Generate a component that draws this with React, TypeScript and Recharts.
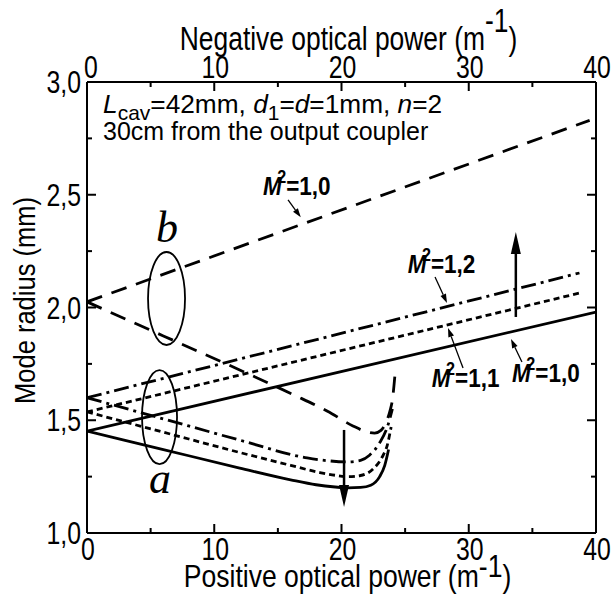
import React from 'react';
import { LineChart, Line, XAxis, YAxis, ReferenceLine, ReferenceDot } from 'recharts';

const FONT = '"Liberation Sans", Arial, Helvetica, sans-serif';
const SERIF = '"Liberation Serif", "Times New Roman", serif';
const SX = 0.8; // axis lettering in the figure is squeezed horizontally

// axis ticks
const xTicks = [0, 5, 10, 15, 20, 25, 30, 35, 40];
const xMajor = [0, 10, 20, 30, 40];
const yTicks = [1, 1.25, 1.5, 1.75, 2, 2.25, 2.5, 2.75, 3];
const yMajor = [1, 1.5, 2, 2.5, 3];

// group a: positive optical power (M2 = 1.0 / 1.1 / 1.2)
const posSolidX = [0, 6, 12, 16, 18, 19.5, 20.5, 21.5, 22.3, 23, 23.4, 23.7];
const posSolidY = [1.452, 1.37, 1.288, 1.236, 1.214, 1.204, 1.2, 1.202, 1.212, 1.25, 1.3, 1.37];
const posDottedX = [0, 6, 12, 16, 18.3, 19.5, 20.5, 21.5, 22.5, 23.2, 23.6, 23.9];
const posDottedY = [1.537, 1.447, 1.357, 1.3, 1.268, 1.256, 1.25, 1.255, 1.285, 1.337, 1.39, 1.47];
const posDashDotX = [0, 6, 12, 17.3, 19, 20.5, 21.5, 22.2, 23, 23.6, 24.0];
const posDashDotY = [1.6, 1.506, 1.412, 1.333, 1.32, 1.315, 1.322, 1.345, 1.4, 1.47, 1.55];
// group b: positive optical power, M2 = 1.0
const posDashedX = [0, 6, 12, 16.2, 18.9, 20.9, 22, 22.6, 23.1, 23.5, 23.8, 24.0, 24.2];
const posDashedY = [2.025, 1.874, 1.723, 1.614, 1.54, 1.475, 1.448, 1.443, 1.455, 1.49, 1.54, 1.59, 1.7];

// negative optical power (straight lines)
const negSolidX = [0, 40];
const negSolidY = [1.452, 1.98];
const negDottedX = [0, 38.7];
const negDottedY = [1.537, 2.064];
const negDashDotX = [0, 38.7];
const negDashDotY = [1.6, 2.153];
const negDashedX = [0, 39.5];
const negDashedY = [2.025, 2.83];

const zip = (xs: number[], ys: number[]) => xs.map((x, i) => ({ x, y: ys[i] }));

const DASHED = '16 10';
const DOTTED = '6 4';
const DASHDOT = '15 5 3 5';

const series = [
  { key: 'pos-solid', data: zip(posSolidX, posSolidY), dash: undefined },
  { key: 'pos-dotted', data: zip(posDottedX, posDottedY), dash: DOTTED },
  { key: 'pos-dashdot', data: zip(posDashDotX, posDashDotY), dash: DASHDOT },
  { key: 'pos-dashed', data: zip(posDashedX, posDashedY), dash: DASHED },
  { key: 'neg-solid', data: zip(negSolidX, negSolidY), dash: undefined },
  { key: 'neg-dotted', data: zip(negDottedX, negDottedY), dash: DOTTED },
  { key: 'neg-dashdot', data: zip(negDashDotX, negDashDotY), dash: DASHDOT },
  { key: 'neg-dashed', data: zip(negDashedX, negDashedY), dash: DASHED },
];

// annotation arrows [x1, y1, x2, y2], head at the second point
const arrows: { seg: number[]; big: boolean }[] = [
  { seg: [20.2, 1.457, 20.2, 1.115], big: true },
  { seg: [33.7, 1.958, 33.7, 2.335], big: true },
  { seg: [15.8, 2.477, 16.8, 2.4], big: false },
  { seg: [27.35, 2.135, 28.29, 2.02], big: false },
  { seg: [29.55, 1.732, 28.37, 1.909], big: false },
  { seg: [34.18, 1.758, 33.32, 1.86], big: false },
];

// M^2 labels
const m2Labels = [
  { x: 13.83, y: 2.499, value: '1,0' },
  { x: 25.2, y: 2.153, value: '1,2' },
  { x: 27.1, y: 1.647, value: '1,1' },
  { x: 33.4, y: 1.67, value: '1,0' },
];

const Txt = ({ x, y, anchor = 'start', size = 26, sx = SX, weight, family = FONT, style, children }: any) => (
  <text
    transform={`translate(${x},${y}) scale(${sx},1)`}
    textAnchor={anchor}
    fontSize={size}
    fontFamily={family}
    fontWeight={weight}
    fontStyle={style}
    fill="#000"
  >
    {children}
  </text>
);

const fmt = (v: number) => v.toFixed(1).replace('.', ',');

const BottomTick = ({ x, y, payload }: any) => {
  const major = xMajor.includes(payload.value);
  return (
    <g>
      <line x1={x} y1={y} x2={x} y2={y - (major ? 9 : 5)} stroke="#000" strokeWidth={2} />
      {major && <Txt x={x + 1} y={y + 27} anchor="middle" size={31}>{payload.value}</Txt>}
    </g>
  );
};

const TopTick = ({ x, y, payload }: any) => {
  const major = xMajor.includes(payload.value);
  return (
    <g>
      <line x1={x} y1={y} x2={x} y2={y + (major ? 9 : 5)} stroke="#000" strokeWidth={2} />
      {major && <Txt x={x + (payload.value === 0 ? 4 : 1)} y={y - 4} anchor="middle" size={31}>{payload.value}</Txt>}
    </g>
  );
};

const LeftTick = ({ x, y, payload }: any) => {
  const major = yMajor.includes(payload.value);
  return (
    <g>
      <line x1={x} y1={y} x2={x + (major ? 9 : 5)} y2={y} stroke="#000" strokeWidth={2} />
      {major && <Txt x={x - 6} y={y + 11} anchor="end" size={31}>{fmt(payload.value)}</Txt>}
    </g>
  );
};

const RightTick = ({ x, y, payload }: any) => {
  const major = yMajor.includes(payload.value);
  return <line x1={x} y1={y} x2={x - (major ? 9 : 5)} y2={y} stroke="#000" strokeWidth={2} />;
};

const BottomTitle = ({ viewBox }: any) => {
  const cx = viewBox.x + viewBox.width / 2 + 6;
  return (
    <Txt x={cx} y={viewBox.y + viewBox.height + 24} anchor="middle" size={32} sx={0.83}>
      Positive optical power (m<tspan dy={-10}>-1</tspan><tspan dy={10}>)</tspan>
    </Txt>
  );
};

const TopTitle = ({ viewBox }: any) => {
  const cx = viewBox.x + viewBox.width / 2 + 7;
  return (
    <Txt x={cx} y={viewBox.y + 8} anchor="middle" size={33}>
      Negative optical power (m<tspan dy={-18}>-1</tspan><tspan dy={18}>)</tspan>
    </Txt>
  );
};

const LeftTitle = ({ viewBox }: any) => {
  const cy = viewBox.y + viewBox.height / 2 - 7;
  return (
    <text
      transform={`translate(${viewBox.x + 8},${cy}) rotate(-90) scale(0.85,1)`}
      textAnchor="middle"
      fontSize={30}
      fontFamily={FONT}
      fill="#000"
    >
      Mode radius (mm)
    </text>
  );
};

const arrowShape = (big: boolean) => (p: any) => {
  const { x1, y1, x2, y2 } = p;
  const len = big ? 22 : 9;
  const half = big ? 5 : 3;
  const dx = x2 - x1;
  const dy = y2 - y1;
  const d = Math.hypot(dx, dy) || 1;
  const ux = dx / d;
  const uy = dy / d;
  const bx = x2 - ux * len;
  const by = y2 - uy * len;
  const pts = `${x2},${y2} ${bx - uy * half},${by + ux * half} ${bx + uy * half},${by - ux * half}`;
  return (
    <g>
      <line x1={x1} y1={y1} x2={bx} y2={by} stroke="#000" strokeWidth={big ? 2.5 : 1.3} />
      <polygon points={pts} fill="#000" />
    </g>
  );
};

const M2Label = (value: string) => (p: any) => (
  <Txt x={p.cx} y={p.cy} size={25} weight="bold" sx={0.9}>
    <tspan fontStyle="italic">M</tspan>
    <tspan dx={-5} dy={-12} fontSize={18}>2</tspan>
    <tspan dy={12}>={value}</tspan>
  </Txt>
);

const ellipse = (rx: number, ry: number) => (p: any) => (
  <ellipse cx={p.cx} cy={p.cy} rx={rx} ry={ry} fill="none" stroke="#000" strokeWidth={1.8} />
);

const letter = (ch: string) => (p: any) => (
  <Txt x={p.cx} y={p.cy} anchor="middle" size={44} sx={1} family={SERIF} style="italic">
    {ch}
  </Txt>
);

const infoLine1 = (p: any) => (
  <Txt x={p.cx} y={p.cy} size={25} sx={1.05}>
    <tspan fontStyle="italic">L</tspan>
    <tspan dy={7} fontSize={20}>cav</tspan>
    <tspan dy={-7}>=42mm, </tspan>
    <tspan fontStyle="italic">d</tspan>
    <tspan dy={7} fontSize={20}>1</tspan>
    <tspan dy={-7}>=</tspan>
    <tspan fontStyle="italic">d</tspan>
    <tspan>=1mm, </tspan>
    <tspan fontStyle="italic">n</tspan>
    <tspan>=2</tspan>
  </Txt>
);

const infoLine2 = (p: any) => (
  <Txt x={p.cx} y={p.cy} size={25} sx={1}>
    30cm from the output coupler
  </Txt>
);

const ids = { xAxisId: 'bottom', yAxisId: 'left' };

export default function App() {
  return (
    <div style={{ position: 'absolute', left: 0, top: 0, background: '#fff' }}>
      <LineChart width={614} height={594} margin={{ top: 42, right: 8, bottom: 31, left: 27 }}>
        <XAxis
          xAxisId="bottom"
          type="number"
          dataKey="x"
          domain={[0, 40]}
          allowDataOverflow
          ticks={xTicks}
          interval={0}
          tickSize={0}
          tickMargin={0}
          tick={BottomTick}
          height={30}
          axisLine={{ stroke: '#000', strokeWidth: 2 }}
          tickLine={false}
          label={BottomTitle}
        />
        <XAxis
          xAxisId="top"
          orientation="top"
          type="number"
          dataKey="x"
          domain={[0, 40]}
          allowDataOverflow
          ticks={xTicks}
          interval={0}
          tickSize={0}
          tickMargin={0}
          tick={TopTick}
          height={40}
          axisLine={{ stroke: '#000', strokeWidth: 2 }}
          tickLine={false}
          label={TopTitle}
        />
        <YAxis
          yAxisId="left"
          type="number"
          domain={[1, 3]}
          allowDataOverflow
          ticks={yTicks}
          interval={0}
          tickSize={0}
          tickMargin={0}
          tick={LeftTick}
          width={60}
          axisLine={{ stroke: '#000', strokeWidth: 2 }}
          tickLine={false}
          label={LeftTitle}
        />
        <YAxis
          yAxisId="right"
          orientation="right"
          type="number"
          domain={[1, 3]}
          allowDataOverflow
          ticks={yTicks}
          interval={0}
          tickSize={0}
          tickMargin={0}
          tick={RightTick}
          width={10}
          axisLine={{ stroke: '#000', strokeWidth: 2 }}
          tickLine={false}
        />
        {series.map((s) => (
          <Line
            key={s.key}
            {...ids}
            data={s.data}
            dataKey="y"
            type="monotone"
            stroke="#000"
            strokeWidth={2.8}
            strokeDasharray={s.dash}
            dot={false}
            activeDot={false}
            isAnimationActive={false}
          />
        ))}
        {arrows.map((a, i) => (
          <ReferenceLine
            key={`arrow-${i}`}
            {...ids}
            segment={[{ x: a.seg[0], y: a.seg[1] }, { x: a.seg[2], y: a.seg[3] }]}
            shape={arrowShape(a.big)}
          />
        ))}
        {m2Labels.map((l, i) => (
          <ReferenceDot key={`m2-${i}`} {...ids} x={l.x} y={l.y} r={0} shape={M2Label(l.value)} />
        ))}
        <ReferenceDot {...ids} x={6.25} y={2.04} r={0} shape={ellipse(18.5, 46.5)} />
        <ReferenceDot {...ids} x={5.7} y={1.514} r={0} shape={ellipse(17.5, 47)} />
        <ReferenceDot {...ids} x={6.29} y={2.29} r={0} shape={letter('b')} />
        <ReferenceDot {...ids} x={5.74} y={1.177} r={0} shape={letter('a')} />
        <ReferenceDot {...ids} x={1.26} y={2.863} r={0} shape={infoLine1} />
        <ReferenceDot {...ids} x={1.26} y={2.743} r={0} shape={infoLine2} />
      </LineChart>
    </div>
  );
}
